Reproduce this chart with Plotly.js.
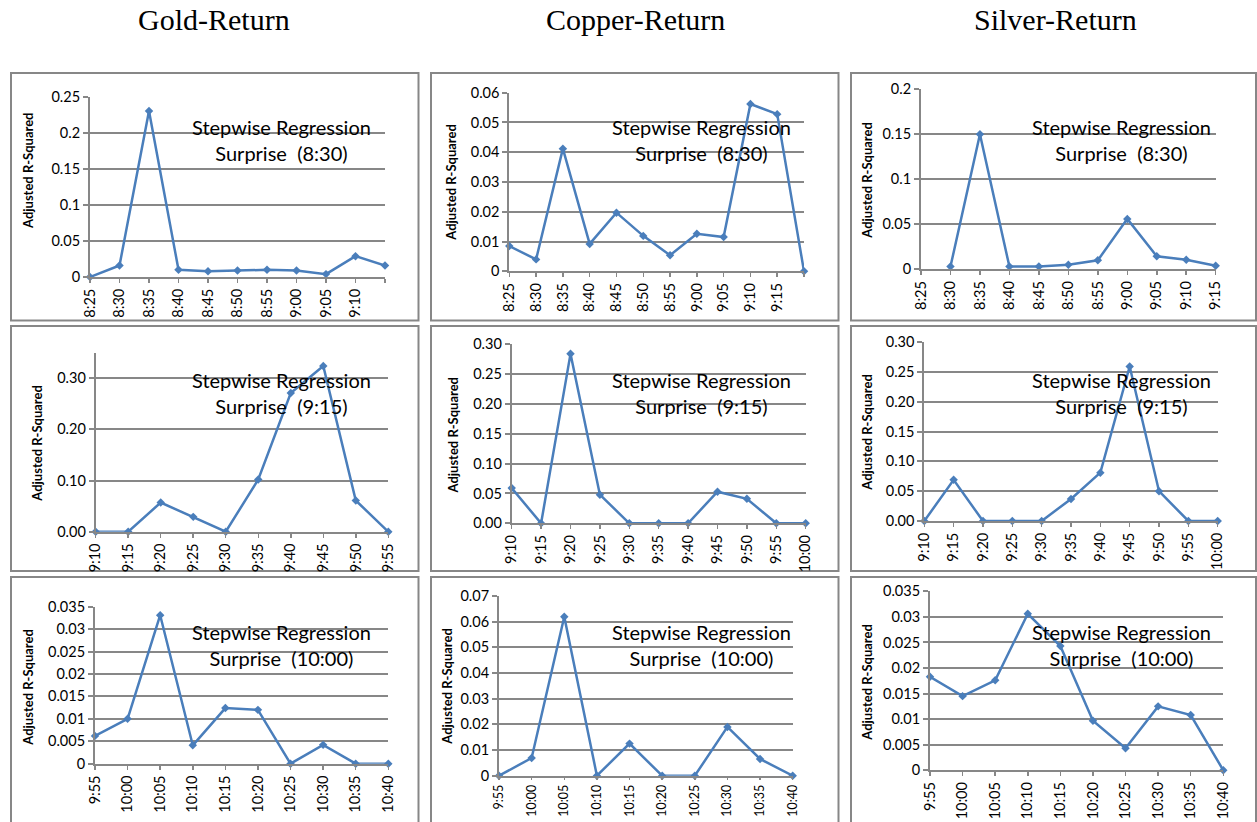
<!DOCTYPE html>
<html>
<head>
<meta charset="utf-8">
<script src="https://cdn.plot.ly/plotly-3.0.1.min.js"></script>
<style>html,body{margin:0;padding:0;background:#fff;}#chart{width:1257px;height:822px;}</style>
</head>
<body>
<div id="chart"></div>
<script>
// ---------------- DATA ----------------
const columnTitles = ["Gold-Return", "Copper-Return", "Silver-Return"];
const surpriseTimes = ["8:30", "9:15", "10:00"];
const yAxisLabel = "Adjusted R-Squared";

// Row 1: Surprise (8:30)
const goldR1Labels   = ["8:25","8:30","8:35","8:40","8:45","8:50","8:55","9:00","9:05","9:10",""];
const goldR1Values   = [0, 0.016, 0.231, 0.010, 0.008, 0.009, 0.010, 0.009, 0.004, 0.029, 0.016];
const copperR1Labels = ["8:25","8:30","8:35","8:40","8:45","8:50","8:55","9:00","9:05","9:10","9:15",""];
const copperR1Values = [0.0085, 0.0040, 0.0412, 0.0092, 0.0197, 0.0119, 0.0054, 0.0126, 0.0115, 0.0562, 0.0528, 0];
const silverR1Labels = ["8:25","8:30","8:35","8:40","8:45","8:50","8:55","9:00","9:05","9:10","9:15"];
const silverR1Values = [null, 0.003, 0.150, 0.003, 0.003, 0.005, 0.010, 0.056, 0.0145, 0.0105, 0.004];

// Row 2: Surprise (9:15)
const goldR2Labels   = ["9:10","9:15","9:20","9:25","9:30","9:35","9:40","9:45","9:50","9:55"];
const goldR2Values   = [0, 0, 0.057, 0.029, 0, 0.102, 0.271, 0.324, 0.061, 0];
const copperR2Labels = ["9:10","9:15","9:20","9:25","9:30","9:35","9:40","9:45","9:50","9:55","10:00"];
const copperR2Values = [0.059, 0, 0.284, 0.048, 0, 0, 0, 0.053, 0.041, 0, 0];
const silverR2Labels = ["9:10","9:15","9:20","9:25","9:30","9:35","9:40","9:45","9:50","9:55","10:00"];
const silverR2Values = [0, 0.069, 0, 0, 0, 0.037, 0.081, 0.259, 0.050, 0, 0];

// Row 3: Surprise (10:00)
const goldR3Labels   = ["9:55","10:00","10:05","10:10","10:15","10:20","10:25","10:30","10:35","10:40"];
const goldR3Values   = [0.0062, 0.0100, 0.0331, 0.0041, 0.0124, 0.0120, 0, 0.0042, 0, 0];
const copperR3Labels = ["9:55","10:00","10:05","10:10","10:15","10:20","10:25","10:30","10:35","10:40"];
const copperR3Values = [0, 0.0069, 0.0619, 0, 0.0125, 0, 0, 0.0190, 0.0065, 0];
const silverR3Labels = ["9:55","10:00","10:05","10:10","10:15","10:20","10:25","10:30","10:35","10:40"];
const silverR3Values = [0.0183, 0.0145, 0.0176, 0.0306, 0.0243, 0.0097, 0.0043, 0.0125, 0.0108, 0];

// Axis scales (max, step, format)
const yMax  = [0.25, 0.06, 0.2, 0.35, 0.30, 0.30, 0.035, 0.07, 0.035];
const yStep = [0.05, 0.01, 0.05, 0.10, 0.05, 0.05, 0.005, 0.01, 0.005];
const yFmt  = ["", "", "", ".2f", ".2f", ".2f", "", "", ""];

const panelLabels = [goldR1Labels, copperR1Labels, silverR1Labels, goldR2Labels, copperR2Labels, silverR2Labels, goldR3Labels, copperR3Labels, silverR3Labels];
const panelValues = [goldR1Values, copperR1Values, silverR1Values, goldR2Values, copperR2Values, silverR2Values, goldR3Values, copperR3Values, silverR3Values];

// ---------------- LAYOUT (pixel geometry) ----------------
const W = 1257, H = 822;
const fx = p => p / W;
const fy = p => 1 - p / H;

const plotRects = [
  {l: 90,    r: 385,    t: 97.3,  b: 277},
  {l: 509.3, r: 804,    t: 92.7,  b: 271.3},
  {l: 921,   r: 1215.7, t: 89.3,  b: 269.3},
  {l: 95.7,  r: 388.3,  t: 352.7, b: 531.7},
  {l: 511.7, r: 805.7,  t: 344.3, b: 523.3},
  {l: 924.3, r: 1217.7, t: 342,   b: 521},
  {l: 95,    r: 388.3,  t: 606.7, b: 763.7},
  {l: 499,   r: 792.7,  t: 596,   b: 775.7},
  {l: 930,   r: 1223.3, t: 591.3, b: 770.3}
];
const xTickSize = [14.5, 14.5, 14.5, 14.5, 14.5, 14.5, 14.5, 12.5, 14.5];
const xTickLen  = [4, 4, 4, 4, 4, 4, 4, 2, 4];
const yTitlePos = [
  [28, 171], [450.7, 182], [866.7, 180],
  [36.7, 443], [452.5, 435], [866.7, 432],
  [27.7, 687], [446.7, 686], [866.7, 682]
];
const boxCols = [[11, 418.5], [431, 838.5], [851, 1256]];
const boxRows = [[73, 320.5], [326, 571], [577, 830]];
const noteX = [281, 701, 1121];
const noteY = [140, 392.7, 645.3];
const titleX = [214, 635, 1055];

const gridColor = "#878787";
const lineColor = "#4A7EBB";
const fontFam = "Lato, 'Liberation Sans', sans-serif";

const traces = [];
const layout = {
  width: W, height: H,
  margin: {l: 0, r: 0, t: 0, b: 0},
  paper_bgcolor: "#fff", plot_bgcolor: "rgba(0,0,0,0)",
  showlegend: false,
  annotations: [], shapes: []
};

for (let i = 0; i < 9; i++) {
  const k = i === 0 ? "" : String(i + 1);
  const labels = panelLabels[i], vals = panelValues[i];
  const idx = labels.map((_, j) => j);
  traces.push({
    type: "scatter", mode: "lines+markers",
    x: idx, y: vals, xaxis: "x" + k, yaxis: "y" + k,
    line: {color: lineColor, width: 2.5},
    marker: {symbol: "diamond", size: 6.5, color: lineColor},
    cliponaxis: false, connectgaps: false, hoverinfo: "skip"
  });
  const rc = plotRects[i];
  layout["xaxis" + k] = {
    domain: [fx(rc.l), fx(rc.r)], anchor: "y" + k,
    range: [0, labels.length - 1], tickmode: "array", tickvals: idx, ticktext: labels,
    tickangle: -90, tickfont: {family: fontFam, size: xTickSize[i], color: "#000"},
    showgrid: false, zeroline: false,
    showline: true, linecolor: gridColor, linewidth: 2,
    ticks: "outside", ticklen: xTickLen[i], tickcolor: gridColor, tickwidth: 1.5, fixedrange: true
  };
  layout["yaxis" + k] = {
    domain: [fy(rc.b), fy(rc.t)], anchor: "x" + k,
    range: [0, yMax[i]], tick0: 0, dtick: yStep[i], tickformat: yFmt[i],
    tickfont: {family: fontFam, size: 14.5, color: "#000"},
    showgrid: true, gridcolor: gridColor, gridwidth: 2,
    zeroline: false, showline: true, linecolor: gridColor, linewidth: 2,
    ticks: "outside", ticklen: 5, tickcolor: gridColor, tickwidth: 2, fixedrange: true
  };
  // y axis title
  layout.annotations.push({
    xref: "paper", yref: "paper", x: fx(yTitlePos[i][0]), y: fy(yTitlePos[i][1]),
    text: "<b>" + yAxisLabel + "</b>", textangle: -90, showarrow: false,
    xanchor: "center", yanchor: "middle",
    font: {family: fontFam, size: 13, color: "#000", weight: 900}
  });
  // panel note
  const row = Math.floor(i / 3), col = i % 3;
  layout.annotations.push({
    xref: "paper", yref: "paper", x: fx(noteX[col]), y: fy(noteY[row]),
    text: "Stepwise Regression<br>Surprise\u00A0 (" + surpriseTimes[row] + ")",
    showarrow: false, xanchor: "center", yanchor: "middle", align: "center",
    font: {family: fontFam, size: 20, color: "#000"}
  });
  // border box
  layout.shapes.push({
    type: "rect", xref: "paper", yref: "paper",
    x0: fx(boxCols[col][0]), x1: fx(boxCols[col][1]),
    y0: fy(boxRows[row][1]), y1: fy(boxRows[row][0]),
    line: {color: gridColor, width: 2}, fillcolor: "rgba(0,0,0,0)", layer: "below"
  });
}

for (let c = 0; c < 3; c++) {
  layout.annotations.push({
    xref: "paper", yref: "paper", x: fx(titleX[c]), y: fy(19),
    text: columnTitles[c], showarrow: false, xanchor: "center", yanchor: "middle",
    font: {family: "'Liberation Serif', 'Times New Roman', serif", size: 30, color: "#000"}
  });
}

Plotly.newPlot("chart", traces, layout, {staticPlot: true, displayModeBar: false});
</script>
</body>
</html>
